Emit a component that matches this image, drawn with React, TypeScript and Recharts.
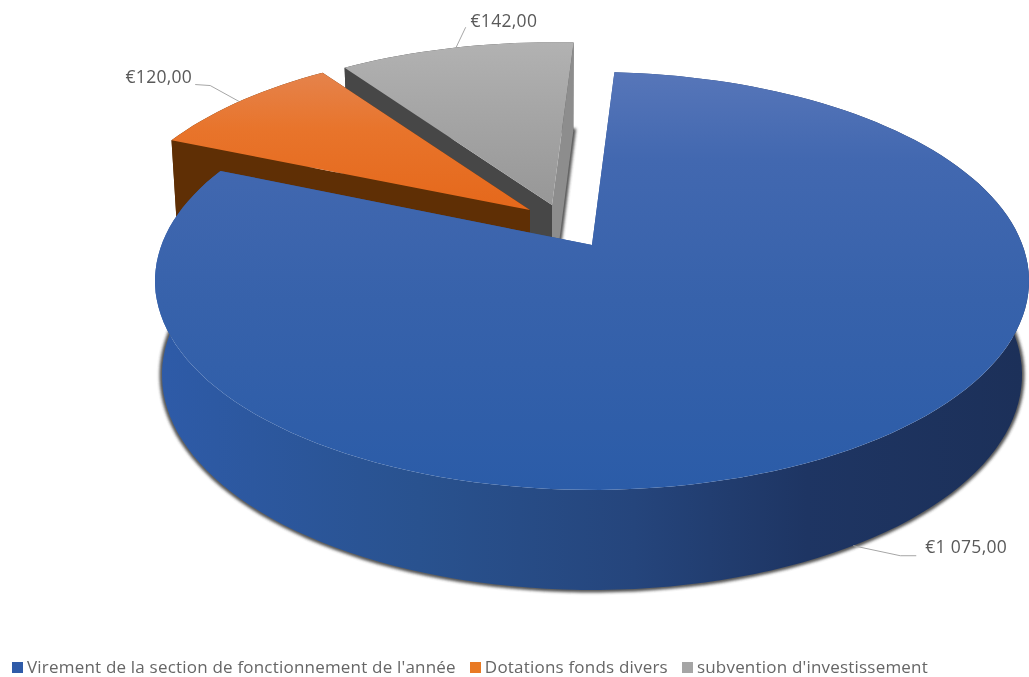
import React from 'react';
import { PieChart, Pie, Cell, Legend } from 'recharts';

// slices are listed back to front so the big blue one paints last
const categories = ["subvention d'investissement", 'Dotations fonds divers', "Virement de la section de fonctionnement de l'année"];
const values = [142, 120, 1075];
const legendOrder = [2, 1, 0];

const rows = categories.map((name, i) => ({ name, value: values[i] }));

const FONT = '"Open Sans", sans-serif';
const TILT = 0.471;
const PERSPECTIVE = 0.172;

const styles: Record<string, any> = {
  [categories[0]]: {
    fill: '#a5a5a5', dx: -40, dy: -40, sx: 0.965, sy: 0.94, wallA: '#8d8d8d', wallB: '#474747', side: '#474747',
    top: [[42, '#b2b2b2'], [110, '#a6a6a6'], [205, '#979797']],
    leader: [[9.5, -20], [10, -20]], text: [14.5, -25, 'start'],
  },
  [categories[1]]: {
    fill: '#e97a24', dx: -62, dy: -35, sx: 0.965, sy: 0.94, wallA: '#5f2f05', wallB: '#5f2f05', side: '#5f2f05',
    top: [[72, '#e5834c'], [130, '#e8742b'], [210, '#e5681b']],
    leader: [[-29, -16], [-44, -17]], text: [-47, -23, 'end'],
  },
  [categories[2]]: {
    fill: '#2f5ba8', dx: 0, dy: 0, sx: 1, sy: 1, wallA: '#2a5296', wallB: '#2a5296', side: '#2a5296',
    top: [[72, '#5776b9'], [160, '#4268b0'], [300, '#3762ab'], [490, '#2b5ca8']],
    leader: [[47, 10], [63, 10]], text: [72, 3, 'start'],
  },
};

const project = (deg: number, cx: number, cy: number, a: number, b: number) => {
  const rad = (deg * Math.PI) / 180;
  const w = 1 / (1 + PERSPECTIVE * Math.sin(rad));
  return [cx + a * Math.cos(rad) * w, cy - b * Math.sin(rad) * w];
};

const topPoint = (deg: number, p: any, s: any) =>
  project(deg, p.cx + s.dx, p.cy + s.dy, p.outerRadius * s.sx, p.outerRadius * TILT * s.sy);
const bottomPoint = (deg: number, p: any, s: any) =>
  project(deg, p.cx + s.dx, p.cy + s.dy + 93, p.outerRadius * 0.984 * s.sx, p.outerRadius * 0.4846 * s.sy);

const arc = (from: number, to: number, fn: (d: number) => number[]) => {
  const steps = Math.max(8, Math.ceil(Math.abs(to - from) / 2));
  const pts: number[][] = [];
  for (let i = 0; i <= steps; i++) pts.push(fn(from + ((to - from) * i) / steps));
  return pts;
};

const toPath = (pts: number[][]) => 'M' + pts.map((q) => q[0].toFixed(1) + ' ' + q[1].toFixed(1)).join('L') + 'Z';

const Slice3D = (props: any) => {
  const s = styles[props.name];
  const { startAngle, endAngle, cx, cy } = props;
  const top = (d: number) => topPoint(d, props, s);
  const bottom = (d: number) => bottomPoint(d, props, s);
  const apexT = [cx + s.dx, cy + s.dy];
  const apexB = [cx + s.dx, cy + s.dy + 93];
  const topArc = arc(startAngle, endAngle, top);
  const bottomArc = arc(startAngle, endAngle, bottom);
  const id = 'g' + Math.round(startAngle * 10).toString().replace('-', 'm');
  const blue = props.name === categories[2];
  return (
    <g>
      <defs>
        <linearGradient id={id} gradientUnits="userSpaceOnUse" x1="0" x2="0" y1={s.top[0][0]} y2={s.top[s.top.length - 1][0]}>
          {s.top.map((t: any) => (
            <stop
              key={t[0]}
              offset={(t[0] - s.top[0][0]) / (s.top[s.top.length - 1][0] - s.top[0][0])}
              stopColor={t[1]}
            />
          ))}
        </linearGradient>
        <linearGradient id={id + 'w'} gradientUnits="userSpaceOnUse" x1="160" x2="1022" y1="0" y2="0">
          <stop offset="0" stopColor="#2e5ba8" />
          <stop offset="0.3" stopColor="#29528f" />
          <stop offset="0.55" stopColor="#25457c" />
          <stop offset="0.75" stopColor="#1e3563" />
          <stop offset="1" stopColor="#1c3059" />
        </linearGradient>
        <filter id={id + 's'} x="-5%" y="-5%" width="110%" height="110%">
          <feGaussianBlur stdDeviation="1.8" />
        </filter>
      </defs>
      <path
        d={'M' + bottomArc.map((q) => q.join(' ')).join('L') + 'L' + apexB.join(' ') + 'Z'}
        fill="none"
        stroke="#333"
        strokeWidth={5}
        opacity={0.85}
        filter={`url(#${id}s)`}
      />
      <path
        d={toPath([...topArc, ...bottomArc.slice().reverse()])}
        fill={blue ? `url(#${id}w)` : s.side}
      />
      <path d={toPath([apexT, topArc[0], bottomArc[0], apexB])} fill={s.wallA} />
      <path
        d={toPath([apexT, topArc[topArc.length - 1], bottomArc[bottomArc.length - 1], apexB])}
        fill={s.wallB}
      />
      <path d={toPath([apexT, ...topArc])} fill={`url(#${id})`} />
    </g>
  );
};

const euro = (v: number) => '€' + String(v).replace(/\B(?=(\d{3})+$)/g, ' ') + ',00';

const SliceLabel = (props: any) => {
  const s = styles[props.name];
  const blue = props.name === categories[2];
  const p = props.midAngle;
  const anchor = blue ? bottomPoint(p, props, s) : topPoint(p, props, s);
  const pts = [anchor, ...s.leader.map((o: number[]) => [anchor[0] + o[0], anchor[1] + o[1]])];
  return (
    <g>
      <polyline points={pts.map((q: number[]) => q.join(',')).join(' ')} fill="none" stroke="#a6a6a6" strokeWidth={1} />
      <text
        x={anchor[0] + s.text[0]}
        y={anchor[1] + s.text[1]}
        textAnchor={s.text[2]}
        dominantBaseline="middle"
        fontFamily={FONT}
        fontSize={17.5}
        letterSpacing={0.3}
        fill="#595959"
      >
        {euro(props.value)}
      </text>
    </g>
  );
};

const legendContent = () => (
  <div style={{ display: 'flex', fontFamily: FONT, fontSize: 17, letterSpacing: 0.2, color: '#666666', lineHeight: '20px' }}>
    {legendOrder.map((i) => (
      <span key={i} style={{ display: 'flex', alignItems: 'center', marginRight: 14 }}>
        <span style={{ width: 11, height: 11, marginRight: 4, background: styles[categories[i]].fill }} />
        {categories[i]}
      </span>
    ))}
  </div>
);

export default function App() {
  return (
    <div style={{ position: 'absolute', left: 0, top: 0, width: 1029, height: 677, filter: 'blur(0.7px)' }}>
      <PieChart width={1029} height={677} margin={{ top: 0, right: 0, bottom: 0, left: 0 }}>
        <Pie
          data={rows}
          dataKey="value"
          nameKey="name"
          cx={592}
          cy={245}
          innerRadius={0}
          outerRadius={430.5}
          startAngle={-273.5}
          endAngle={86.5}
          stroke="none"
          isAnimationActive={false}
          shape={Slice3D}
          activeShape={Slice3D}
          inactiveShape={Slice3D}
          label={SliceLabel}
          labelLine={false}
        >
          {rows.map((r) => (
            <Cell key={r.name} fill={styles[r.name].fill} />
          ))}
        </Pie>
        <Legend content={legendContent} wrapperStyle={{ left: 12, top: 657, width: 1010 }} />
      </PieChart>
    </div>
  );
}
